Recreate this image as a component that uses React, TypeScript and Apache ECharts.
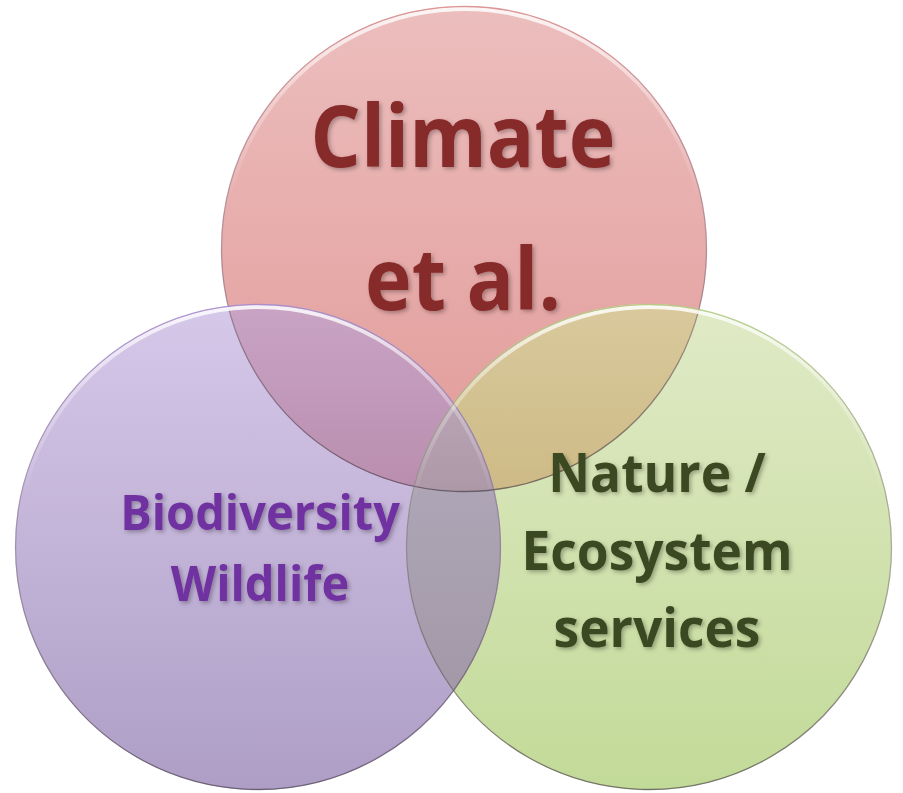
import React, { useEffect, useRef } from "react";
import * as echarts from "echarts";

// ---- content ----
const setNames = ["Climate", "Biodiversity", "Nature"];
const labelLines: string[][] = [
  ["Climate", "et al."],
  ["Biodiversity", "Wildlife"],
  ["Nature /", "Ecosystem", "services"],
];
const labelColors = ["#862a2a", "#7030a0", "#3b4a20"];

// ---- layout (pixels) ----
const CX = [464, 258, 649];
const CY = [249, 547, 547];
const R = 243;
const fontSizes = [79, 47, 51.5];
const fontScaleY = [1.1, 1.04, 1.03];
const lineYs: number[][] = [
  [133, 276],
  [511, 582],
  [471.5, 549.5, 626.5],
];
const labelX = [463, 260, 657];

// ---- colours ----
const fillTop = ["#ecbebe", "#d6c8e9", "#e0eac6"];
const fillBottom = ["#e19a97", "#ae9ec6", "#c2da98"];
const rimTop = ["rgba(214,130,130,0.7)", "rgba(160,130,200,0.7)", "rgba(170,200,120,0.7)"];
const pairs = [
  [0, 1],
  [0, 2],
  [1, 2],
];
const pairTop = ["#c9a4c5", "#d9c99c", "#b2abbb"];
const pairBottom = ["#b98dae", "#cdba86", "#a298a8"];
const tripleTop = "#b8a4b4";
const tripleBottom = "#ad98a8";

type Pt = [number, number];

function circlePts(cx: number, cy: number, r: number, n = 720): Pt[] {
  const pts: Pt[] = [];
  for (let i = 0; i < n; i++) {
    const t = (i / n) * Math.PI * 2;
    pts.push([cx + r * Math.cos(t), cy + r * Math.sin(t)]);
  }
  return pts;
}

function signedArea(p: Pt[]): number {
  let s = 0;
  for (let i = 0; i < p.length; i++) {
    const a = p[i], b = p[(i + 1) % p.length];
    s += a[0] * b[1] - b[0] * a[1];
  }
  return s / 2;
}

function intersect(p: Pt, q: Pt, a: Pt, b: Pt): Pt {
  const x1 = p[0], y1 = p[1], x2 = q[0], y2 = q[1];
  const x3 = a[0], y3 = a[1], x4 = b[0], y4 = b[1];
  const den = (x1 - x2) * (y3 - y4) - (y1 - y2) * (x3 - x4);
  if (Math.abs(den) < 1e-12) return q;
  const t = ((x1 - x3) * (y3 - y4) - (y1 - y3) * (x3 - x4)) / den;
  return [x1 + t * (x2 - x1), y1 + t * (y2 - y1)];
}

function clip(subject: Pt[], clipPoly: Pt[]): Pt[] {
  let output = subject;
  const orient = signedArea(clipPoly) > 0 ? 1 : -1;
  const n = clipPoly.length;
  for (let i = 0; i < n; i++) {
    if (!output.length) break;
    const a = clipPoly[i], b = clipPoly[(i + 1) % n];
    const input = output;
    output = [];
    const inside = (p: Pt) =>
      orient * ((b[0] - a[0]) * (p[1] - a[1]) - (b[1] - a[1]) * (p[0] - a[0])) >= 0;
    for (let j = 0; j < input.length; j++) {
      const cur = input[j];
      const prev = input[(j + input.length - 1) % input.length];
      const ci = inside(cur), pi = inside(prev);
      if (ci) {
        if (!pi) output.push(intersect(prev, cur, a, b));
        output.push(cur);
      } else if (pi) {
        output.push(intersect(prev, cur, a, b));
      }
    }
  }
  return output;
}

const vgrad = (top: string, bottom: string) =>
  new echarts.graphic.LinearGradient(0, 0, 0, 1, [
    { offset: 0, color: top },
    { offset: 1, color: bottom },
  ]);

export default function App() {
  const ref = useRef<HTMLDivElement>(null);
  useEffect(() => {
    if (!ref.current) return;
    const chart = echarts.init(ref.current, undefined, { renderer: "svg" });
    const polys = CX.map((cx, i) => circlePts(cx, CY[i], R));
    const elements: any[] = [];
    let z = 1;
    setNames.forEach((name, i) => {
      elements.push({
        type: "circle",
        z: z++,
        shape: { cx: CX[i], cy: CY[i], r: R },
        style: { fill: vgrad(fillTop[i], fillBottom[i]) },
      });
    });
    pairs.forEach(([a, b], k) => {
      const pts = clip(polys[a], polys[b]);
      elements.push({
        type: "polygon",
        z: z++,
        shape: { points: pts },
        style: { fill: vgrad(pairTop[k], pairBottom[k]) },
      });
    });
    const tri = clip(clip(polys[0], polys[1]), polys[2]);
    elements.push({
      type: "polygon",
      z: z++,
      shape: { points: tri },
      style: { fill: vgrad(tripleTop, tripleBottom) },
    });
    setNames.forEach((name, i) => {
      elements.push({
        type: "circle",
        z: z++,
        shape: { cx: CX[i], cy: CY[i], r: R - 3 },
        style: {
          fill: "none",
          stroke: new echarts.graphic.LinearGradient(0, 0, 0, 1, [
            { offset: 0, color: "rgba(255,255,255,0.85)" },
            { offset: 0.18, color: "rgba(255,255,255,0.35)" },
            { offset: 0.4, color: "rgba(255,255,255,0)" },
            { offset: 1, color: "rgba(255,255,255,0)" },
          ]),
          lineWidth: 4,
        },
      });
      elements.push({
        type: "circle",
        z: z++,
        shape: { cx: CX[i], cy: CY[i], r: R - 0.5 },
        style: {
          fill: "none",
          stroke: new echarts.graphic.LinearGradient(0, 0, 0, 1, [
            { offset: 0, color: rimTop[i] },
            { offset: 0.5, color: "rgba(120,100,120,0.45)" },
            { offset: 1, color: "rgba(70,60,70,0.65)" },
          ]),
          lineWidth: 1.3,
        },
      });
    });
    labelLines.forEach((lines, i) => {
      lines.forEach((line, j) => {
        elements.push({
          type: "text",
          z: z++,
          x: labelX[i],
          y: lineYs[i][j],
          scaleY: fontScaleY[i],
          style: {
            text: line,
            fill: labelColors[i],
            font: `bold ${fontSizes[i]}px "Open Sans", Lato, sans-serif`,
            textAlign: "center",
            textVerticalAlign: "middle",
            textShadowColor: "rgba(0,0,0,0.3)",
            textShadowBlur: 4,
            textShadowOffsetX: 2,
            textShadowOffsetY: 2,
          },
        });
      });
    });
    chart.setOption({
      animation: false,
      backgroundColor: "#ffffff",
      graphic: { elements },
    });
    return () => chart.dispose();
  }, []);
  return (
    <div
      ref={ref}
      style={{ position: "absolute", left: 0, top: 0, width: 903, height: 793 }}
    />
  );
}
